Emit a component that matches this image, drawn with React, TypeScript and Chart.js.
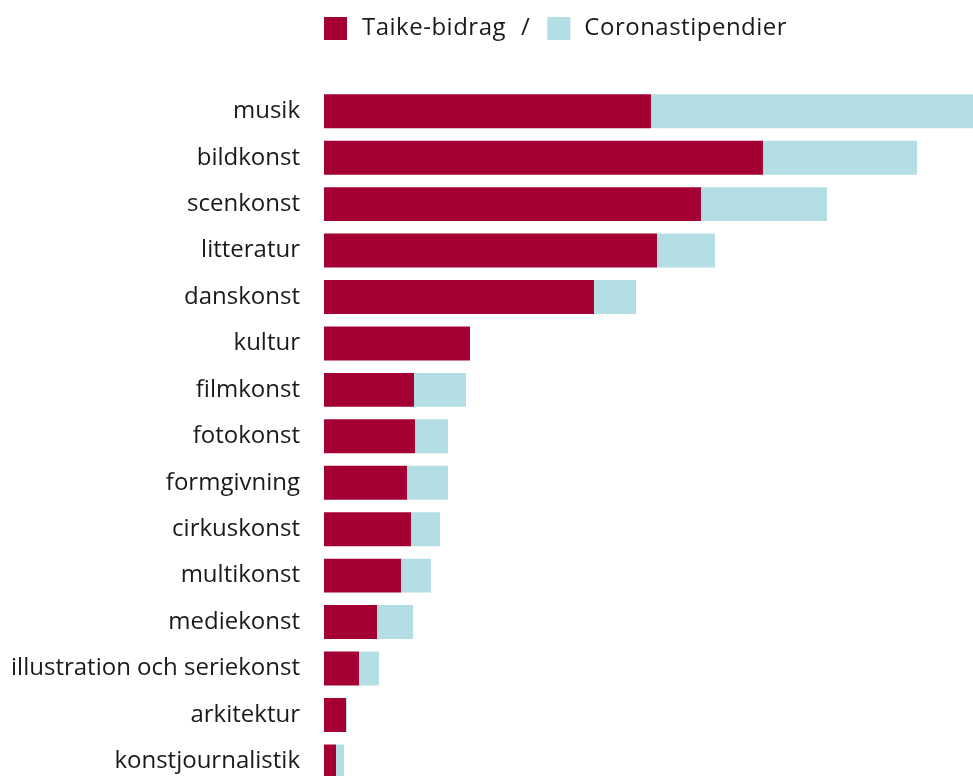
import React, { useEffect, useRef } from "react";
import { Chart, registerables } from "chart.js";

Chart.register(...registerables);

const categories = [
  "musik",
  "bildkonst",
  "scenkonst",
  "litteratur",
  "danskonst",
  "kultur",
  "filmkonst",
  "fotokonst",
  "formgivning",
  "cirkuskonst",
  "multikonst",
  "mediekonst",
  "illustration och seriekonst",
  "arkitektur",
  "konstjournalistik",
];

const taikeBidrag = [327, 439, 377, 333, 270, 146, 90, 91, 83, 87, 77, 53, 35, 22, 12];
const coronastipendier = [322, 154, 126, 58, 42, 0, 52, 33, 41, 29, 30, 36, 20, 1, 8];

const seriesNames = ["Taike-bidrag", "Coronastipendier"];
const RED = "#A50034";
const CYAN = "#B3DEE3";
const FONT = "'Open Sans', sans-serif";
const TEXT = "#1a1a1a";

const legendPlugin = {
  id: "customLegend",
  afterDraw(chart: any) {
    const ctx = chart.ctx;
    const left = chart.chartArea.left;
    ctx.save();
    ctx.font = `24px ${FONT}`;
    (ctx as any).letterSpacing = "0.5px";
    ctx.textBaseline = "middle";
    ctx.textAlign = "left";
    const cy = 28.5;
    let x = left;
    ctx.fillStyle = RED;
    ctx.fillRect(x, 17, 23, 23);
    x += 23 + 15;
    ctx.fillStyle = TEXT;
    ctx.fillText(seriesNames[0], x, cy);
    x += ctx.measureText(seriesNames[0]).width + 15;
    ctx.fillText("/", x, cy);
    x += ctx.measureText("/").width + 17;
    ctx.fillStyle = CYAN;
    ctx.fillRect(x, 17, 23, 23);
    x += 23 + 14;
    ctx.fillStyle = TEXT;
    ctx.fillText(seriesNames[1], x, cy);
    ctx.restore();
  },
};

export default function App() {
  const ref = useRef<HTMLCanvasElement | null>(null);
  useEffect(() => {
    if (!ref.current) return;
    const chart = new Chart(ref.current, {
      type: "bar",
      data: {
        labels: categories,
        datasets: [
          { label: seriesNames[0], data: taikeBidrag, backgroundColor: RED, borderWidth: 0 },
          { label: seriesNames[1], data: coronastipendier, backgroundColor: CYAN, borderWidth: 0 },
        ],
      },
      options: {
        indexAxis: "y",
        animation: false,
        responsive: false,
        maintainAspectRatio: false,
        layout: { padding: { top: 88, bottom: 15, left: 0, right: 0 } },
        datasets: {
          bar: { categoryPercentage: 1, barPercentage: 0.731 },
        },
        plugins: {
          legend: { display: false },
          tooltip: { enabled: false },
        },
        scales: {
          x: {
            stacked: true,
            display: false,
            min: 0,
            max: taikeBidrag[0] + coronastipendier[0],
          },
          y: {
            stacked: true,
            grid: { display: false, drawTicks: false },
            border: { display: false },
            ticks: {
              padding: 24,
              color: TEXT,
              font: { family: FONT, size: 24 },
            },
            afterFit(scale: any) {
              scale.width = 324;
            },
          },
        },
      },
      plugins: [legendPlugin],
    });
    return () => chart.destroy();
  }, []);
  return (
    <div style={{ position: "fixed", left: 0, top: 0, width: 973, height: 776, overflow: "hidden", background: "#fff" }}>
      <canvas ref={ref} width={973} height={823} style={{ display: "block", width: 973, height: 823 }} />
    </div>
  );
}
